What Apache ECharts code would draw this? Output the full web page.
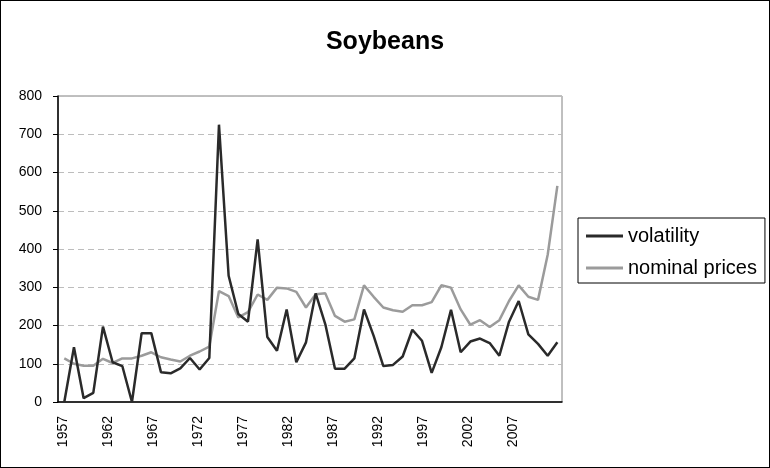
<!DOCTYPE html>
<html>
<head>
<meta charset="utf-8">
<script src="https://cdn.jsdelivr.net/npm/echarts@6/dist/echarts.min.js"></script>
<style>
  html, body { margin: 0; padding: 0; background: #fff; }
  #chart { width: 770px; height: 468px; box-sizing: border-box; border: 1px solid #000; }
</style>
</head>
<body>
<div id="chart"></div>
<script>
// years 1957..2008
const years = [1957, 1958, 1959, 1960, 1961, 1962, 1963, 1964, 1965, 1966, 1967, 1968, 1969,
  1970, 1971, 1972, 1973, 1974, 1975, 1976, 1977, 1978, 1979, 1980, 1981, 1982, 1983, 1984,
  1985, 1986, 1987, 1988, 1989, 1990, 1991, 1992, 1993, 1994, 1995, 1996, 1997, 1998, 1999,
  2000, 2001, 2002, 2003, 2004, 2005, 2006, 2007, 2008]

const volatility = [0, 143, 10, 24, 197, 104, 94, 0, 180, 180, 78, 75, 88,
  115, 85, 115, 725, 330, 230, 210, 425, 170, 134, 242, 104, 156, 284, 203,
  87, 87, 114, 242, 173, 94, 97, 119, 189, 160, 76, 143, 241, 130, 158,
  166, 154, 121, 210, 264, 177, 152, 121, 156]

const nominalPrices = [114, 100, 95, 95, 113, 102, 114, 114, 121, 130, 117, 111, 106,
  121, 132, 145, 290, 277, 221, 235, 281, 267, 299, 297, 288, 247, 282, 284,
  225, 210, 216, 305, 275, 247, 240, 236, 253, 253, 261, 305, 299, 242, 202,
  214, 196, 214, 264, 305, 275, 267, 385, 565]

const yearLabels = [1957, 1962, 1967, 1972, 1977, 1982, 1987, 1992, 1997, 2002, 2007]
const yTicks = [0, 100, 200, 300, 400, 500, 600, 700, 800]

const font = 'Arial, "Liberation Sans", sans-serif'

var myChart = echarts.init(document.getElementById('chart'))
var option = {
  animation: false,
  title: {
    text: 'Soybeans',
    left: 'center',
    top: 24,
    textStyle: { fontFamily: font, fontSize: 25, fontWeight: 'bold', color: '#000' },
  },
  legend: {
    orient: 'vertical',
    left: 577,
    top: 217,
    padding: [8, 8, 5, 8],
    itemGap: 12,
    itemWidth: 37,
    itemHeight: 3,
    icon: 'rect',
    borderColor: '#000',
    borderWidth: 1,
    textStyle: { fontFamily: font, fontSize: 20, color: '#000' },
    data: ['volatility', 'nominal prices'],
  },
  grid: {
    left: 57,
    right: 207,
    top: 95,
    bottom: 65,
    show: true,
    borderColor: '#808080',
    borderWidth: 1,
  },
  xAxis: [
    {
      // axis for the data points
      type: 'value',
      min: 1956.35,
      max: 2008.48,
      show: false,
    },
    {
      // axis that carries the year labels
      type: 'value',
      min: 1956.48,
      max: 2012.39,
      position: 'bottom',
      axisLine: { show: true, lineStyle: { color: '#000', width: 1.5 } },
      axisTick: { show: false },
      splitLine: { show: false },
      axisLabel: {
        rotate: 90,
        margin: 14,
        customValues: yearLabels,
        formatter: (v) => String(v),
        fontFamily: font,
        fontSize: 14,
        color: '#000',
      },
    },
  ],
  yAxis: {
    type: 'value',
    min: yTicks[0],
    max: yTicks[yTicks.length - 1],
    interval: 100,
    axisLine: { show: true, lineStyle: { color: '#000', width: 1.5 } },
    axisTick: { show: true, length: 5, lineStyle: { color: '#000' } },
    splitLine: { lineStyle: { color: '#bdbdbd', type: [6, 4] } },
    axisLabel: { margin: 16, fontFamily: font, fontSize: 14, color: '#000' },
  },
  series: [
    {
      name: 'volatility',
      type: 'line',
      xAxisIndex: 0,
      symbol: 'none',
      color: '#2a2a2a',
      lineStyle: { width: 2.5 },
      data: years.map((y, i) => [y, volatility[i]]),
      z: 3,
    },
    {
      name: 'nominal prices',
      type: 'line',
      xAxisIndex: 0,
      symbol: 'none',
      color: '#9b9b9b',
      lineStyle: { width: 2.5 },
      data: years.map((y, i) => [y, nominalPrices[i]]),
      z: 2,
    },
  ],
}
myChart.setOption(option)
</script>
</body>
</html>
